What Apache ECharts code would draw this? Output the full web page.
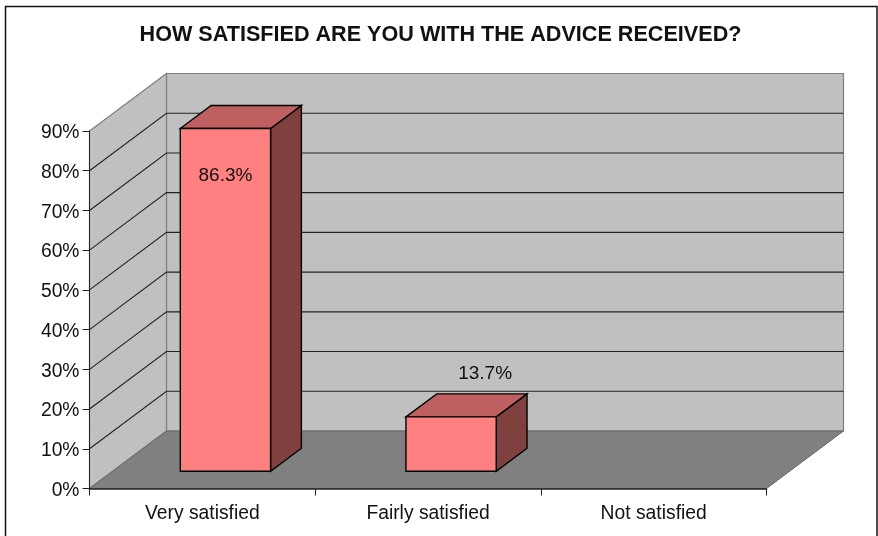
<!DOCTYPE html>
<html>
<head>
<meta charset="utf-8">
<style>html,body{margin:0;padding:0;background:#fff}#chart{width:878px;height:536px}</style>
<script src="https://cdn.jsdelivr.net/npm/echarts@6/dist/echarts.min.js"></script>
</head>
<body>
<div id="chart"></div>
<script>
const categories = ['Very satisfied', 'Fairly satisfied', 'Not satisfied'];
const satisfaction = [86.3, 13.7, null];
const valueTicks = [10, 20, 30, 40, 50, 60, 70, 80];
const chartTitle = 'HOW SATISFIED ARE YOU WITH THE ADVICE RECEIVED?';

// Oblique projection: how far the back wall sits from the front plane, in pixels.
const DEPTH_X = 77;
const DEPTH_Y = 57.5;
// Bars occupy 40% of the depth, starting 30% of the way back.
const BAR_DEPTH_START = 0.3;
const BAR_DEPTH = 0.4;
const BAR_WIDTH_RATIO = 0.4;
// Label shifts from the top-centre of each bar's front face.
const LABEL_SHIFT = [[0, 47], [34, -43]];

const FONT = '"Liberation Sans", Arial, sans-serif';
const INK = '#111';

function poly(points, fill, stroke, width) {
  return {
    type: 'polygon',
    shape: { points },
    style: { fill, stroke: stroke || 'none', lineWidth: width === undefined ? 1 : width }
  };
}

function renderShell(params) {
  const c = params.coordSys;
  const l = c.x, r = c.x + c.width, t = c.y, b = c.y + c.height;
  const edge = '#808080';
  return {
    type: 'group',
    children: [
      poly([[l + DEPTH_X, t - DEPTH_Y], [r + DEPTH_X, t - DEPTH_Y], [r + DEPTH_X, b - DEPTH_Y], [l + DEPTH_X, b - DEPTH_Y]], '#C0C0C0', edge, 1.2),
      poly([[l, t], [l + DEPTH_X, t - DEPTH_Y], [l + DEPTH_X, b - DEPTH_Y], [l, b]], '#C0C0C0', edge, 1.2),
      poly([[l, b], [l + DEPTH_X, b - DEPTH_Y], [r + DEPTH_X, b - DEPTH_Y], [r, b]], '#808080', '#666', 1)
    ]
  };
}

function renderGridLine(params, api) {
  const c = params.coordSys;
  const y = api.coord([0, api.value(1)])[1];
  const l = c.x, r = c.x + c.width;
  return {
    type: 'polyline',
    shape: { points: [[l, y], [l + DEPTH_X, y - DEPTH_Y], [r + DEPTH_X, y - DEPTH_Y]] },
    style: { stroke: '#222', lineWidth: 1.1, fill: 'none' }
  };
}

function renderBar(params, api) {
  const idx = api.value(0);
  const value = api.value(1);
  const band = api.size([1, 0])[0];
  const w = band * BAR_WIDTH_RATIO;
  const topPt = api.coord([idx, value]);
  const basePt = api.coord([idx, 0]);
  const ox = DEPTH_X * BAR_DEPTH_START, oy = DEPTH_Y * BAR_DEPTH_START;
  const dx = DEPTH_X * BAR_DEPTH, dy = DEPTH_Y * BAR_DEPTH;
  const x0 = topPt[0] + ox - w / 2, x1 = x0 + w;
  const yt = topPt[1] - oy, yb = basePt[1] - oy;
  const line = '#000';
  const shift = LABEL_SHIFT[idx];
  return {
    type: 'group',
    children: [
      poly([[x1, yt], [x1 + dx, yt - dy], [x1 + dx, yb - dy], [x1, yb]], '#804040', line, 1.4),
      poly([[x0, yt], [x0 + dx, yt - dy], [x1 + dx, yt - dy], [x1, yt]], '#BF6060', line, 1.4),
      poly([[x0, yt], [x1, yt], [x1, yb], [x0, yb]], '#FF8080', line, 1.4),
      {
        type: 'text',
        style: {
          text: value.toFixed(1) + '%',
          x: (x0 + x1) / 2 + shift[0],
          y: yt + shift[1],
          align: 'center',
          verticalAlign: 'middle',
          font: '19px ' + FONT,
          fill: INK
        }
      }
    ]
  };
}

const chart = echarts.init(document.getElementById('chart'), null, { renderer: 'canvas' });
chart.setOption({
  animation: false,
  backgroundColor: '#fff',
  title: {
    text: chartTitle,
    left: 435.5,
    top: 19,
    textAlign: 'center',
    textStyle: { fontFamily: FONT, fontSize: 21.6, fontWeight: 'bold', color: INK }
  },
  graphic: [{
    type: 'rect',
    shape: { x: 5.5, y: 6.5, width: 871.5, height: 560 },
    style: { fill: 'none', stroke: '#111', lineWidth: 1.5 },
    silent: true
  }],
  grid: { left: 89.5, top: 131, width: 677, height: 357.5 },
  xAxis: {
    type: 'category',
    data: categories,
    z: 10,
    axisLine: { lineStyle: { color: '#222', width: 1.5 } },
    axisTick: { show: true, alignWithLabel: false, length: 7, lineStyle: { color: '#222' } },
    axisLabel: { color: INK, fontFamily: FONT, fontSize: 19.3, margin: 16 },
    splitLine: { show: false }
  },
  yAxis: {
    type: 'value',
    min: 0,
    max: 90,
    interval: 10,
    z: 10,
    axisLine: { show: true, lineStyle: { color: '#222' } },
    axisTick: { show: true, length: 7, lineStyle: { color: '#222' } },
    axisLabel: {
      color: INK, fontFamily: FONT, fontSize: 19.3, margin: 10,
      verticalAlign: 'middle', lineHeight: 24, formatter: '{tick|{value}%}',
      rich: { tick: { fontFamily: FONT, fontSize: 19.3, color: INK, padding: [4, 0, 0, 0] } }
    },
    splitLine: { show: false }
  },
  series: [
    { type: 'custom', z: 1, silent: true, data: [[0, 0]], encode: { x: 0, y: 1 }, renderItem: renderShell },
    {
      type: 'custom', z: 2, silent: true,
      data: valueTicks.map(v => [0, v]),
      encode: { x: 0, y: 1 },
      renderItem: renderGridLine
    },
    {
      type: 'custom', z: 3, silent: true,
      data: satisfaction.map((v, i) => [i, v]).filter(d => d[1] !== null),
      encode: { x: 0, y: 1 },
      renderItem: renderBar
    }
  ]
});
</script>
</body>
</html>
